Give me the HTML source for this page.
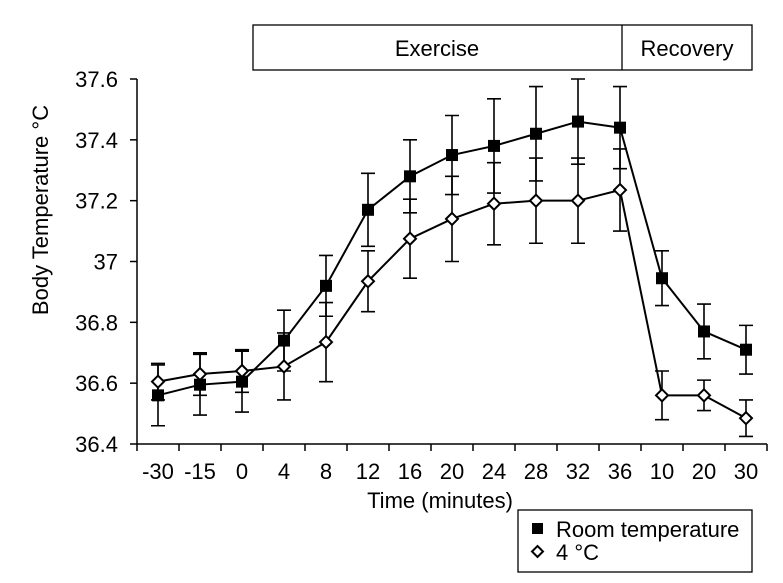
<!DOCTYPE html>
<html><head><meta charset="utf-8"><style>
body{margin:0;background:#fff;}
svg{display:block;font-family:"Liberation Sans",sans-serif;}
</style></head><body>
<svg id="chart" width="783" height="583" viewBox="0 0 783 583">
<g>
<rect x="253" y="25" width="499" height="45" fill="none" stroke="#000" stroke-width="1.3"/>
<line x1="622" y1="25" x2="622" y2="70" stroke="#000" stroke-width="1.3"/>
<text x="437" y="56" font-size="22" text-anchor="middle">Exercise</text>
<text x="687" y="56" font-size="22" text-anchor="middle">Recovery</text>
</g>
<g id="axes"></g>
<g id="marks"></g>
<text transform="translate(48,210) rotate(-90)" font-size="22" text-anchor="middle">Body Temperature °C</text>
<text x="440" y="508" font-size="22" text-anchor="middle">Time (minutes)</text>
<g>
<rect x="518" y="510" width="234" height="62" fill="#fff" stroke="#000" stroke-width="1.3"/>
<rect x="532" y="523" width="11" height="11" fill="#000"/>
<text x="556" y="537" font-size="22">Room temperature</text>
<polygon points="537.5,546 543,551.5 537.5,557 532,551.5" fill="#fff" stroke="#000" stroke-width="2"/>
<text x="556" y="560" font-size="22">4 °C</text>
</g>
</svg>
<script>
const categories=["-30","-15","0","4","8","12","16","20","24","28","32","36","10","20","30"];
const roomValues=[36.56,36.595,36.605,36.74,36.92,37.17,37.28,37.35,37.38,37.42,37.46,37.44,36.945,36.77,36.71];
const roomErrors=[0.1,0.1,0.1,0.1,0.1,0.12,0.12,0.13,0.155,0.155,0.14,0.135,0.09,0.09,0.08];
const coldValues=[36.605,36.63,36.64,36.655,36.735,36.935,37.075,37.14,37.19,37.2,37.2,37.235,36.56,36.56,36.485];
const coldErrors=[0.06,0.07,0.07,0.11,0.13,0.1,0.13,0.14,0.135,0.14,0.14,0.135,0.08,0.05,0.06];
const yTicks=[36.4,36.6,36.8,37,37.2,37.4,37.6];
const yTickLabels=["36.4","36.6","36.8","37","37.2","37.4","37.6"];

const NS="http://www.w3.org/2000/svg";
const X0=137,X1=767,Y0=444,Y1=79,YMIN=36.4,YMAX=37.6;
const band=(X1-X0)/categories.length;
function xs(i){return X0+band*(i+0.5);}
function ys(v){return Y0-(v-YMIN)/(YMAX-YMIN)*(Y0-Y1);}
function mk(tag,attrs,parent){const e=document.createElementNS(NS,tag);for(const k in attrs)e.setAttribute(k,attrs[k]);parent.appendChild(e);return e;}
const axes=document.getElementById('axes'),marks=document.getElementById('marks');
let e=mk('line',{x1:X0,y1:Y1,x2:X0,y2:Y0,stroke:'#000','stroke-width':1.5},axes);


e=mk('line',{x1:X0,y1:Y0,x2:X1,y2:Y0,stroke:'#000','stroke-width':1.5},axes);


yTicks.forEach((v,i)=>{
 const t=mk('line',{x1:X0-7,y1:ys(v),x2:X0,y2:ys(v),stroke:'#000','stroke-width':1.5},axes);
 
 
 const l=mk('text',{x:118,y:ys(v)+8,'font-size':22,'text-anchor':'end'},axes);
 l.textContent=yTickLabels[i];
 
 
});
for(let i=0;i<=categories.length;i++){
 const t=mk('line',{x1:X0+band*i,y1:Y0,x2:X0+band*i,y2:Y0+7,stroke:'#000','stroke-width':1.5},axes);
 
 
}
categories.forEach((c,i)=>{
 const l=mk('text',{x:xs(i),y:479,'font-size':22,'text-anchor':'middle'},axes);
 l.textContent=c;
 
 
});
function series(vals,errs,name,filled){
 const g=mk('g',{},marks);
 
 
 vals.forEach((v,i)=>{
  const x=xs(i),a=ys(v+errs[i]),b=ys(v-errs[i]);
  const eb=mk('path',{d:`M${x},${a}V${b}M${x-7},${a}H${x+7}M${x-7},${b}H${x+7}`,stroke:'#000','stroke-width':1.6,fill:'none'},g);
  
  
 });
 const ln=mk('polyline',{points:vals.map((v,i)=>xs(i)+','+ys(v)).join(' '),fill:'none',stroke:'#000','stroke-width':2},g);
 
 
 vals.forEach((v,i)=>{
  const x=xs(i),y=ys(v);let m;
  if(filled)m=mk('rect',{x:x-6,y:y-6,width:12,height:12,fill:'#000'},g);
  else m=mk('polygon',{points:`${x},${y-6} ${x+6},${y} ${x},${y+6} ${x-6},${y}`,fill:'#fff',stroke:'#000','stroke-width':2},g);
  
  
 });
}
series(roomValues,roomErrors,'room-temperature',true);
series(coldValues,coldErrors,'cold-4c',false);
</script>
</body></html>
